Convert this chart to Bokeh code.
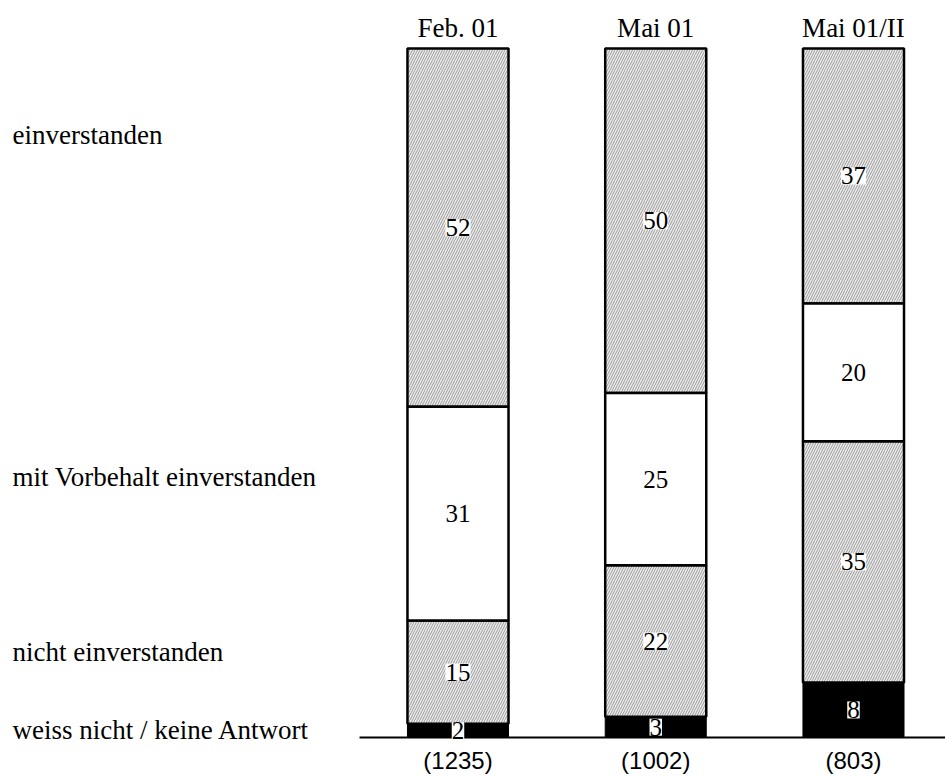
from bokeh.plotting import figure
from bokeh.models import ColumnDataSource, LabelSet
from bokeh.core.properties import value
from bokeh.embed import file_html
from bokeh.resources import INLINE

# ---- data ----
periods = ["Feb. 01", "Mai 01", "Mai 01/II"]
sample_sizes = ["(1235)", "(1002)", "(803)"]
categories = ["weiss nicht / keine Antwort", "nicht einverstanden",
              "mit Vorbehalt einverstanden", "einverstanden"]
weiss_nicht = [2, 3, 8]
nicht_einverstanden = [15, 22, 35]
mit_vorbehalt = [31, 25, 20]
einverstanden = [52, 50, 37]

series = [weiss_nicht, nicht_einverstanden, mit_vorbehalt, einverstanden]
styles = ["black", "hatch", "white", "hatch"]

SERIF = value("Liberation Serif")
SANS = value("Liberation Sans")

xs = list(range(len(periods)))
BAR_W = 0.511
X0, X1 = -2.3135, 2.4653
Y0, Y1 = -5.66, 106.97

p = figure(width=945, height=776, x_range=(X0, X1), y_range=(Y0, Y1),
           output_backend="svg", toolbar_location=None, min_border=0,
           x_axis_type=None, y_axis_type=None)
p.grid.visible = False
p.outline_line_color = None

# build stacked segments
seg = {s: dict(x=[], bottom=[], top=[]) for s in ["black", "hatch", "white"]}
lab = dict(x=[], y=[], text=[])
cum = [0] * len(periods)
for vals, st in zip(series, styles):
    for i, v in enumerate(vals):
        seg[st]["x"].append(xs[i])
        seg[st]["bottom"].append(cum[i])
        seg[st]["top"].append(cum[i] + v)
        lab["x"].append(xs[i])
        lab["y"].append(cum[i] + v / 2)
        lab["text"].append(str(v))
        cum[i] += v

p.vbar(x="x", bottom="bottom", top="top", width=BAR_W, source=ColumnDataSource(seg["black"]),
       fill_color="black", line_color="black", line_width=1)
p.vbar(x="x", bottom="bottom", top="top", width=BAR_W, source=ColumnDataSource(seg["hatch"]),
       fill_color="#ececec", hatch_pattern="/", hatch_color="#9a9a9a", hatch_scale=5,
       hatch_weight=1, line_color="black", line_width=2.5)
p.vbar(x="x", bottom="bottom", top="top", width=BAR_W, source=ColumnDataSource(seg["white"]),
       fill_color="white", line_color="black", line_width=2.5)

# baseline
p.segment(x0=[-0.498], y0=[0], x1=[X1], y1=[0], line_color="black", line_width=2)

# value labels
p.add_layout(LabelSet(x="x", y="y", text="text", source=ColumnDataSource(lab),
                      text_align="center", text_baseline="middle",
                      text_font=SERIF, text_font_size="25px", text_color="black",
                      background_fill_color="white"))

# column headers
p.text(x=xs, y=[103.05] * len(xs), text=periods, text_font=SERIF, text_font_size="27px",
       text_align="center", text_baseline="middle", text_color="black")
# sample sizes
p.text(x=xs, y=[-3.34] * len(xs), text=sample_sizes, text_font=SANS, text_font_size="24px",
       text_align="center", text_baseline="middle", text_color="black")
# category labels
cat_y = [1.02, 12.34, 37.88, 87.52]
p.text(x=[-2.2528] * len(categories), y=cat_y, text=categories, text_font=SERIF,
       text_font_size="27px", text_align="left", text_baseline="middle", text_color="black")

open("out.html", "w").write(file_html(p, INLINE))
